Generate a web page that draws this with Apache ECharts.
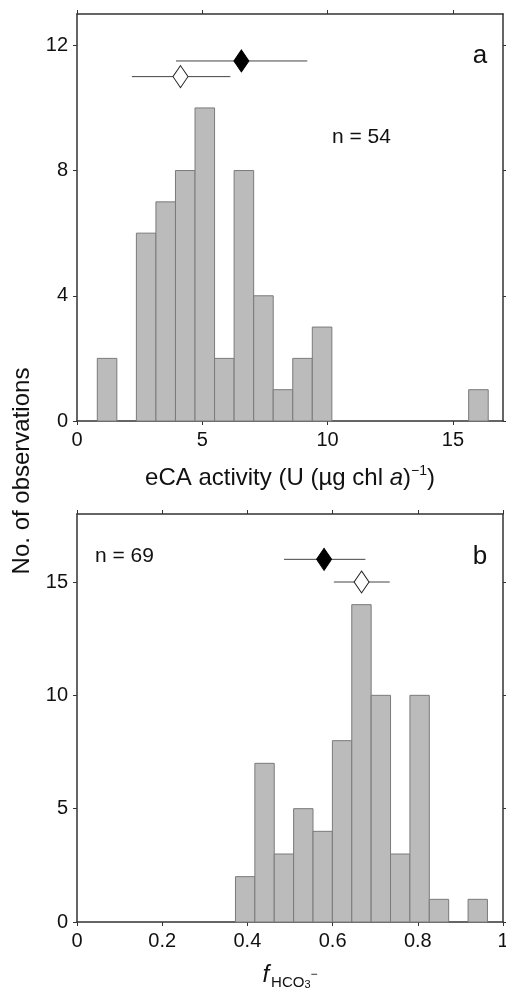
<!DOCTYPE html>
<html>
<head>
<meta charset="utf-8">
<script src="https://cdn.jsdelivr.net/npm/echarts@6/dist/echarts.min.js"></script>
<style>
  html, body { margin: 0; padding: 0; background: #fff; }
  #chart { width: 506px; height: 993px; }
</style>
</head>
<body>
<div id="chart"></div>
<script>
// panel a : eCA activity histogram
let edgesA = [0.81, 1.59, 2.37, 3.15, 3.93, 4.71, 5.49, 6.27, 7.05, 7.83, 8.61, 9.39, 10.17,
              10.95, 11.73, 12.51, 13.29, 14.07, 14.85, 15.63, 16.41];
let countsA = [2, 0, 6, 7, 8, 10, 2, 8, 4, 1, 2, 3, 0, 0, 0, 0, 0, 0, 0, 1];
let xTicksA = [0, 5, 10, 15];
let yTicksA = [0, 4, 8, 12];
// mean markers: [x, y, low, high]
let filledA = [6.56, 11.5, 3.95, 9.19];
let openA = [4.13, 11.0, 2.19, 6.12];

// panel b : f HCO3- histogram
let edgesB = [0.372, 0.4175, 0.463, 0.5085, 0.554, 0.5995, 0.645, 0.6905, 0.736, 0.7815,
              0.827, 0.8725, 0.918, 0.9635];
let countsB = [2, 7, 3, 5, 4, 8, 14, 10, 3, 10, 1, 0, 1];
let xTicksB = [0, 0.2, 0.4, 0.6, 0.8, 1];
let yTicksB = [0, 5, 10, 15];
let filledB = [0.58, 16, 0.486, 0.677];
let openB = [0.668, 15, 0.603, 0.734];

let chart = echarts.init(document.getElementById('chart'));

const FONT = 'Liberation Sans, Arial, Helvetica, sans-serif';
const AXIS_COLOR = '#333';

function histData(edges, counts) {
    let out = [];
    for (let i = 0; i < counts.length; i++) {
        if (counts[i] > 0) out.push([edges[i], edges[i + 1], counts[i]]);
    }
    return out;
}

function renderBar(params, api) {
    let p0 = api.coord([api.value(0), api.value(2)]);
    let p1 = api.coord([api.value(1), 0]);
    return {
        type: 'rect',
        shape: { x: p0[0], y: p0[1], width: p1[0] - p0[0], height: p1[1] - p0[1] },
        style: { fill: '#bbbbbb', stroke: '#7a7a7a', lineWidth: 1 }
    };
}

function renderErr(params, api) {
    let a = api.coord([api.value(2), api.value(1)]);
    let b = api.coord([api.value(3), api.value(1)]);
    return {
        type: 'line',
        shape: { x1: a[0], y1: a[1], x2: b[0], y2: b[1] },
        style: { stroke: '#444', lineWidth: 1 }
    };
}

function mainAxis(grid, pos, min, max, ticks, extra) {
    return Object.assign({
        type: 'value', gridIndex: grid, position: pos, min: min, max: max,
        splitLine: { show: false },
        axisLine: { show: true, onZero: false, lineStyle: { color: AXIS_COLOR, width: 1.5 } },
        axisTick: { show: true, inside: false, length: 4, customValues: ticks, lineStyle: { color: AXIS_COLOR, width: 1 } },
        axisLabel: { show: true, customValues: ticks, fontFamily: FONT, fontSize: 20, color: '#111', margin: 9 }
    }, extra || {});
}

function borderAxis(grid, pos, min, max, ticks, len) {
    return {
        type: 'value', gridIndex: grid, position: pos, min: min, max: max,
        splitLine: { show: false },
        axisLine: { show: true, onZero: false, lineStyle: { color: AXIS_COLOR, width: 1.5 } },
        axisTick: { show: true, inside: false, length: len, customValues: ticks, lineStyle: { color: AXIS_COLOR, width: 1 } },
        axisLabel: { show: false }
    };
}

let option = {
    animation: false,
    backgroundColor: '#fff',
    grid: [
        { left: 77, right: 3, top: 14, height: 407, outerBoundsMode: 'none', containLabel: false },
        { left: 77, right: 3, top: 514, height: 408, outerBoundsMode: 'none', containLabel: false }
    ],
    xAxis: [
        mainAxis(0, 'bottom', 0, 17, xTicksA, {
            name: '{t|eCA activity (U (µg chl }{i|a}{t|)}{s|−1}{t|)}',
            nameLocation: 'middle',
            nameGap: 43,
            nameTextStyle: {
                rich: {
                    t: { fontFamily: FONT, fontSize: 24, color: '#111', lineHeight: 28 },
                    i: { fontFamily: FONT, fontSize: 24, fontStyle: 'italic', color: '#111', lineHeight: 28 },
                    s: { fontFamily: FONT, fontSize: 14, color: '#111', verticalAlign: 'top', lineHeight: 14 }
                }
            }
        }),
        borderAxis(0, 'top', 0, 17, xTicksA, 4),
        mainAxis(1, 'bottom', 0, 1, xTicksB, {
            name: '{f|f}{s|HCO}{n|3}{m|−}',
            nameLocation: 'middle',
            nameGap: 38,
            nameTextStyle: {
                rich: {
                    f: { fontFamily: FONT, fontSize: 24, fontStyle: 'italic', color: '#111', lineHeight: 30, padding: [0, 2, 0, 0] },
                    s: { fontFamily: FONT, fontSize: 15, color: '#111', verticalAlign: 'bottom', lineHeight: 16 },
                    n: { fontFamily: FONT, fontSize: 11, color: '#111', verticalAlign: 'bottom', lineHeight: 10 },
                    m: { fontFamily: FONT, fontSize: 12, color: '#111', verticalAlign: 'middle', lineHeight: 12 }
                }
            }
        }),
        borderAxis(1, 'top', 0, 1, xTicksB, 4)
    ],
    yAxis: [
        mainAxis(0, 'left', 0, 13, yTicksA),
        borderAxis(0, 'right', 0, 13, yTicksA, 3),
        mainAxis(1, 'left', 0, 18, yTicksB),
        borderAxis(1, 'right', 0, 18, yTicksB, 3)
    ],
    series: [
        {
            type: 'custom', xAxisIndex: 0, yAxisIndex: 0,
            data: histData(edgesA, countsA), renderItem: renderBar,
            encode: { x: [0, 1], y: 2 }
        },
        {
            type: 'custom', xAxisIndex: 0, yAxisIndex: 0, z: 3,
            data: [filledA, openA], renderItem: renderErr,
            encode: { x: [0, 2, 3], y: 1 }
        },
        {
            type: 'scatter', xAxisIndex: 0, yAxisIndex: 0, z: 4,
            data: [[filledA[0], filledA[1]]], symbol: 'diamond', symbolSize: [15, 22],
            itemStyle: { color: '#000', borderColor: '#000', borderWidth: 1, opacity: 1 }
        },
        {
            type: 'scatter', xAxisIndex: 0, yAxisIndex: 0, z: 4,
            data: [[openA[0], openA[1]]], symbol: 'diamond', symbolSize: [15, 22],
            itemStyle: { color: '#fff', borderColor: '#222', borderWidth: 1, opacity: 1 }
        },
        {
            type: 'custom', xAxisIndex: 2, yAxisIndex: 2,
            data: histData(edgesB, countsB), renderItem: renderBar,
            encode: { x: [0, 1], y: 2 }
        },
        {
            type: 'custom', xAxisIndex: 2, yAxisIndex: 2, z: 3,
            data: [filledB, openB], renderItem: renderErr,
            encode: { x: [0, 2, 3], y: 1 }
        },
        {
            type: 'scatter', xAxisIndex: 2, yAxisIndex: 2, z: 4,
            data: [[filledB[0], filledB[1]]], symbol: 'diamond', symbolSize: [15, 22],
            itemStyle: { color: '#000', borderColor: '#000', borderWidth: 1, opacity: 1 }
        },
        {
            type: 'scatter', xAxisIndex: 2, yAxisIndex: 2, z: 4,
            data: [[openB[0], openB[1]]], symbol: 'diamond', symbolSize: [15, 22],
            itemStyle: { color: '#fff', borderColor: '#222', borderWidth: 1, opacity: 1 }
        }
    ],
    graphic: [
        {
            type: 'text', x: 22, y: 471, rotation: Math.PI / 2,
            style: { text: 'No. of observations', font: '24px ' + FONT, fill: '#111', align: 'center', verticalAlign: 'middle' }
        },
        {
            type: 'text', x: 480, y: 56,
            style: { text: 'a', font: '26px ' + FONT, fill: '#111', align: 'center', verticalAlign: 'middle' }
        },
        {
            type: 'text', x: 480, y: 557,
            style: { text: 'b', font: '26px ' + FONT, fill: '#111', align: 'center', verticalAlign: 'middle' }
        },
        {
            type: 'text', x: 332, y: 137,
            style: { text: 'n = 54', font: '21px ' + FONT, fill: '#111', align: 'left', verticalAlign: 'middle' }
        },
        {
            type: 'text', x: 95, y: 556,
            style: { text: 'n = 69', font: '21px ' + FONT, fill: '#111', align: 'left', verticalAlign: 'middle' }
        }
    ]
};

chart.setOption(option);
</script>
</body>
</html>
